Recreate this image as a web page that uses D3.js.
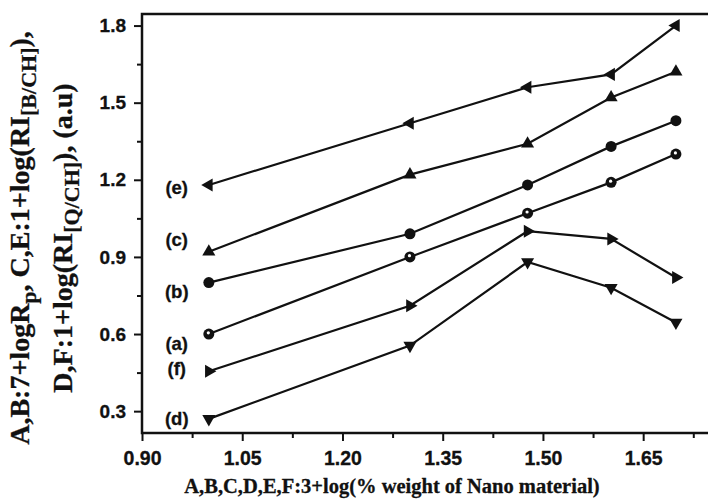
<!DOCTYPE html>
<html><head><meta charset="utf-8">
<script src="https://cdn.jsdelivr.net/npm/d3@7"></script>
<style>body{margin:0;background:#fff}</style>
</head><body><svg id="c" width="708" height="504"></svg>
<script>
// ---- data ----
const xValues = [1.0, 1.301, 1.477, 1.602, 1.699];
const seriesNames = ["(e)", "(c)", "(b)", "(a)", "(f)", "(d)"];
const seriesE = [1.18, 1.42, 1.56, 1.61, 1.80];
const seriesC = [0.92, 1.22, 1.34, 1.52, 1.62];
const seriesB = [0.80, 0.99, 1.18, 1.33, 1.43];
const seriesA = [0.60, 0.90, 1.07, 1.19, 1.30];
const seriesF = [0.455, 0.71, 1.00, 0.97, 0.82];
const seriesD = [0.27, 0.555, 0.88, 0.78, 0.645];
const labelX = 0.952;
const labelY = [1.170, 0.969, 0.765, 0.565, 0.468, 0.273];
const xTicks = [0.90, 1.05, 1.20, 1.35, 1.50, 1.65];
const xMinor = [0.975, 1.125, 1.275, 1.425, 1.575, 1.725];
const yTicks = [0.3, 0.6, 0.9, 1.2, 1.5, 1.8];
const yMinor = [0.45, 0.75, 1.05, 1.35, 1.65];

const seriesList = [
  {name: "(e)", values: seriesE, marker: "left"},
  {name: "(c)", values: seriesC, marker: "up"},
  {name: "(b)", values: seriesB, marker: "circle"},
  {name: "(a)", values: seriesA, marker: "half"},
  {name: "(f)", values: seriesF, marker: "right"},
  {name: "(d)", values: seriesD, marker: "down"}
];

const svg = d3.select("#c");
const x = d3.scaleLinear([0.9, 1.75], [142, 710]);
const y = d3.scaleLinear([0.215, 1.845], [433, 14]);
const ink = "#111";
const sans = "'Liberation Sans', Arial, sans-serif";
const serif = "'Liberation Serif', 'Times New Roman', serif";

// frame
svg.append("rect")
  .attr("x", x(0.9)).attr("y", y(1.845))
  .attr("width", x(1.75) - x(0.9)).attr("height", y(0.215) - y(1.845))
  .attr("fill", "none").attr("stroke", ink).attr("stroke-width", 2.5);

function styleAxis(g) {
  g.select(".domain").remove();
  g.selectAll(".tick line").attr("stroke", ink).attr("stroke-width", 2);
  g.selectAll(".tick text").attr("fill", ink).attr("font-family", sans)
    .attr("font-weight", "bold").attr("stroke", ink).attr("stroke-width", 0.3);
}

svg.append("g").attr("transform", `translate(${x(0.9)},0)`)
  .call(d3.axisLeft(y).tickValues(yTicks).tickSize(8).tickPadding(8).tickFormat(d3.format(".1f")))
  .call(styleAxis).call(g => g.selectAll(".tick text").attr("font-size", 19));
svg.append("g").attr("transform", `translate(${x(0.9)},0)`)
  .call(d3.axisLeft(y).tickValues(yMinor).tickSize(5).tickFormat(""))
  .call(styleAxis);
svg.append("g").attr("transform", `translate(0,${y(0.215)})`)
  .call(d3.axisBottom(x).tickValues(xTicks).tickSize(8).tickPadding(10).tickFormat(d3.format(".2f")))
  .call(styleAxis).call(g => g.selectAll(".tick text").attr("font-size", 19.5));
svg.append("g").attr("transform", `translate(0,${y(0.215)})`)
  .call(d3.axisBottom(x).tickValues(xMinor).tickSize(5).tickFormat(""))
  .call(styleAxis);

// lines
const line = d3.line().x((d, i) => x(xValues[i])).y(d => y(d));
const tri = d3.symbol().type(d3.symbolTriangle).size(74)();
const rot = {up: 0, right: 90, down: 180, left: -90};

seriesList.forEach(s => {
  svg.append("path").attr("d", line(s.values)).attr("fill", "none")
    .attr("stroke", ink).attr("stroke-width", 2.2);
  const g = svg.append("g");
  s.values.forEach((v, i) => {
    const cx = x(xValues[i]), cy = y(v);
    if (s.marker === "circle") {
      g.append("circle").attr("cx", cx).attr("cy", cy).attr("r", 5.5).attr("fill", ink);
    } else if (s.marker === "half") {
      g.append("circle").attr("cx", cx).attr("cy", cy).attr("r", 5.5).attr("fill", ink);
      g.append("circle").attr("cx", cx - 0.5).attr("cy", cy - 1.2).attr("r", 1.6).attr("fill", "#fff");
    } else {
      g.append("path").attr("d", tri)
        .attr("transform", `translate(${cx},${cy}) rotate(${rot[s.marker]})`)
        .attr("fill", ink);
    }
  });
});

// series labels
seriesNames.forEach((n, i) => {
  svg.append("text").attr("x", x(labelX)).attr("y", y(labelY[i])).attr("dy", "0.36em")
    .attr("text-anchor", "middle").attr("font-family", sans).attr("font-weight", "bold")
    .attr("font-size", 18.5).attr("fill", ink).attr("stroke", ink).attr("stroke-width", 0.3)
    .text(n);
});

// x axis title
svg.append("text").attr("x", 392).attr("y", 493).attr("text-anchor", "middle")
  .attr("font-family", serif).attr("font-weight", "bold").attr("font-size", 20.5)
  .attr("fill", ink).attr("stroke", ink).attr("stroke-width", 0.3)
  .text("A,B,C,D,E,F:3+log(% weight of Nano material)");

// y axis title (two lines)
function yTitle(xpos, parts) {
  const t = svg.append("text").attr("transform", `translate(${xpos},238) rotate(-90)`)
    .attr("text-anchor", "middle").attr("font-family", serif).attr("font-weight", "bold")
    .attr("font-size", 28).attr("fill", ink).attr("stroke", ink).attr("stroke-width", 0.3);
  parts.forEach(p => {
    const ts = t.append("tspan").text(p.t);
    if (p.sub) ts.attr("font-size", 22).attr("dy", 7);
    if (p.back) ts.attr("dy", -7);
  });
}
yTitle(29, [
  {t: "A,B:7+logR"}, {t: "p", sub: true}, {t: ", C,E:1+log(RI", back: true},
  {t: "[B/CH]", sub: true}, {t: "),", back: true}
]);
yTitle(72, [
  {t: "D,F:1+log(RI"}, {t: "[Q/CH]", sub: true}, {t: "), (a.u)", back: true}
]);
</script>
</body></html>
